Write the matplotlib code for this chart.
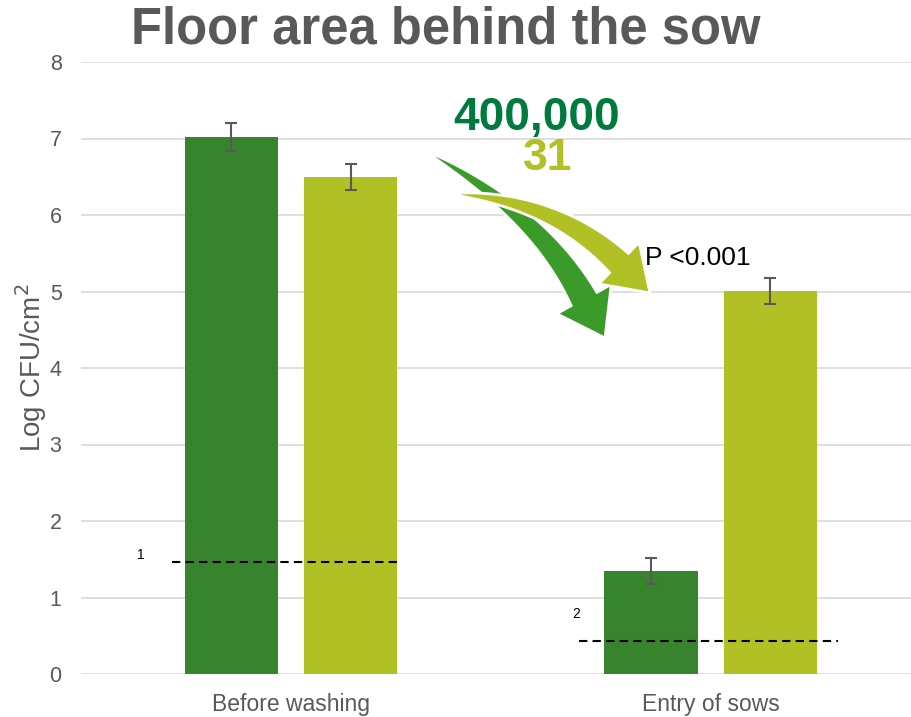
import numpy as np
import matplotlib.pyplot as plt
from matplotlib.patches import Polygon
from matplotlib.transforms import Affine2D

plt.rcParams['font.family'] = ['Liberation Sans', 'DejaVu Sans']

# Data
groups = ['Before washing', 'Entry of sows']
dark_vals = [7.02, 1.35]
dark_err = [0.18, 0.17]
light_vals = [6.50, 5.01]
light_err = [0.17, 0.17]
detect_limits = [1.46, 0.43]
limit_marks = ['1', '2']

DARK = '#38842E'
LIGHT = '#B1C125'
GRAY = '#595959'

fig = plt.figure(figsize=(9.12, 7.17), dpi=100)
ax = fig.add_axes([81 / 912, 1 - 674 / 717, 831 / 912, 612 / 717])

x = np.arange(len(groups))
w = 0.222
off = 0.142
ax.bar(x - off, dark_vals, w, color=DARK, zorder=2)
ax.bar(x + off, light_vals, w, color=LIGHT, zorder=2)
ax.errorbar(x - off, dark_vals, yerr=dark_err, fmt='none', ecolor=GRAY,
            elinewidth=1.5, capsize=4.5, capthick=1.5, zorder=3)
ax.errorbar(x + off, light_vals, yerr=light_err, fmt='none', ecolor=GRAY,
            elinewidth=1.5, capsize=4.5, capthick=1.5, zorder=3)

# detection limits (dashed)
spans = [(-0.284, 0.260), (0.687, 1.304)]
for (a, b), lim in zip(spans, detect_limits):
    ax.plot([a, b], [lim, lim], color='black', ls=(0, (4, 2.5)), lw=1.5, zorder=4)
ax.text(-0.358, 1.56, limit_marks[0], fontsize=10, ha='center', va='center')
ax.text(0.679, 0.78, limit_marks[1], fontsize=10, ha='center', va='center')

ax.set_xlim(-0.5006, 1.48)
ax.set_ylim(0, 8)
ax.set_yticks(range(0, 9))
ax.set_xticks(x)
ax.set_xticklabels(groups)
ax.tick_params(axis='y', length=0, labelsize=15.5, colors=GRAY, pad=14)
ax.tick_params(axis='x', length=0, labelsize=16.5, colors=GRAY, pad=13.5)
ax.yaxis.grid(True, color='#d9d9d9', lw=1.2, zorder=0)
ax.set_axisbelow(True)
for s in ax.spines.values():
    s.set_visible(False)
ax.set_ylabel('Log CFU/cm$^2$', fontsize=20, color=GRAY, labelpad=0)

# texts
fig.text(0.489, 0.958, 'Floor area behind the sow', fontsize=36.5, fontweight='bold',
         color=GRAY, ha='center', va='center')
fig.text(537 / 912, 1 - 118 / 717, '400,000', fontsize=33, fontweight='bold',
         color='#007A3D', ha='center', va='center')
fig.text(548 / 912, 1 - 158 / 717, '31', fontsize=32, fontweight='bold',
         color=LIGHT, ha='center', va='center')
fig.text(645 / 912, 1 - 258 / 717, 'P <0.001', fontsize=19, color='black',
         ha='left', va='center', zorder=5)

# curved tapered arrows, in pixel coords (origin top-left)
px = Affine2D().scale(1 / 912, -1 / 717).translate(0, 1) + fig.transFigure


def tapered_arrow(p0, p1, p2, tip, band_w, head_w, color, z):
    p0, p1, p2, tip = map(np.asarray, (p0, p1, p2, tip))
    t = np.linspace(0, 1, 60)[:, None]
    pts = (1 - t) ** 2 * p0 + 2 * (1 - t) * t * p1 + t ** 2 * p2
    d = 2 * (1 - t) * (p1 - p0) + 2 * t * (p2 - p1)
    d = d / np.linalg.norm(d, axis=1, keepdims=True)
    n = np.column_stack([-d[:, 1], d[:, 0]])
    hw = (band_w / 2) * t ** 0.7
    left = pts + n * hw
    right = pts - n * hw
    hd = (tip - p2) / np.linalg.norm(tip - p2)
    hn = np.array([-hd[1], hd[0]])
    head = [p2 + hn * head_w / 2, tip, p2 - hn * head_w / 2]
    poly = np.vstack([left, head, right[::-1]])
    fig.patches.append(Polygon(poly, closed=True, transform=px, facecolor=color,
                               edgecolor='white', lw=2, zorder=z))


tapered_arrow((427, 152), (540, 214), (584, 299), (605, 338), 29, 62, '#3A9A2A', 6)
tapered_arrow((452, 194), (553, 199), (619, 263), (650, 293), 27, 58, LIGHT, 7)

fig.savefig('out.png', dpi=100)
